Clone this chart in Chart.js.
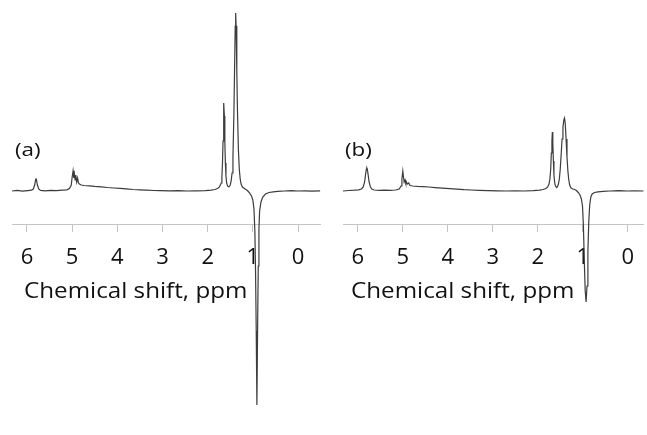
<!DOCTYPE html>
<html>
<head>
<meta charset="utf-8">
<script src="https://cdn.jsdelivr.net/npm/chart.js@4/dist/chart.umd.min.js"></script>
<style>
  html, body { margin: 0; padding: 0; background: #ffffff; }
  #wrap { position: relative; width: 647px; height: 435px; overflow: hidden; }
  canvas { position: absolute; top: 0; }
  #ca { left: 0; }
  #cb { left: 330px; }
</style>
</head>
<body>
<div id="wrap">
  <canvas id="ca" width="330" height="435"></canvas>
  <canvas id="cb" width="317" height="435"></canvas>
</div>
<script>
// ---- data ----
const xTicks = [6, 5, 4, 3, 2, 1, 0];
const axisTitle = 'Chemical shift, ppm';
const panelLabels = ['(a)', '(b)'];

// panel (a): chemical shift (ppm) and signal (arbitrary units)
const ppmA = [6.33, 6.22, 6.10, 5.98, 5.90, 5.86, 5.83, 5.81, 5.80, 5.79, 5.77, 5.74, 5.70, 5.60, 5.48, 5.35, 5.22, 5.12, 5.06, 5.02,
  5.00, 4.98, 4.965, 4.95, 4.935, 4.92, 4.90, 4.88, 4.86, 4.84, 4.80, 4.74, 4.62, 4.50, 4.36, 4.22, 4.08, 3.94, 3.80, 3.65,
  3.50, 3.35, 3.20, 3.05, 2.85, 2.65, 2.45, 2.25, 2.05, 1.92, 1.84, 1.78, 1.74, 1.70, 1.685, 1.672, 1.66, 1.65, 1.64, 1.63,
  1.62, 1.608, 1.595, 1.58, 1.56, 1.53, 1.50, 1.48, 1.46, 1.44, 1.42, 1.405, 1.39, 1.38, 1.37, 1.355, 1.34, 1.32, 1.30, 1.28,
  1.26, 1.23, 1.17, 1.12, 1.07, 1.03, 1.00, 0.975, 0.955, 0.94, 0.925, 0.91, 0.895, 0.88, 0.865, 0.85, 0.82, 0.78, 0.72, 0.64,
  0.55, 0.45, 0.30, 0.15, 0.0, -0.15, -0.30, -0.49];
const intA = [0, 0.6, -0.2, 0.4, 0.8, 2, 6, 11, 12, 11, 6, 2, 0.6, 0.2, 0.6, 0.3, 0.8, 1.2, 2.5, 6,
  14, 20, 13, 17, 11, 16, 9, 13, 8, 7, 6, 5.5, 5.2, 4.6, 4.2, 3.5, 3, 2.6, 2.1, 1.5,
  1.2, 0.8, 0.5, 0.3, 0.1, 0.3, 0, 0.2, 0.4, 0.8, 1.5, 2.5, 4, 8, 14, 28, 50, 75, 88, 75,
  50, 28, 15, 8, 5, 4, 6, 10, 18, 35, 75, 120, 165, 178, 165, 120, 80, 42, 22, 12,
  7, 4, 2, 0.5, -2, -5, -9, -18, -40, -80, -140, -214, -140, -75, -38, -20, -11, -6, -3, -1.5,
  -0.8, -0.3, 0, 0.3, 0, 0.2, -0.1, 0.2];

// panel (b)
const ppmB = [6.33, 6.20, 6.08, 5.98, 5.92, 5.88, 5.85, 5.83, 5.81, 5.80, 5.79, 5.77, 5.75, 5.72, 5.69, 5.64, 5.52, 5.40, 5.28, 5.16,
  5.08, 5.04, 5.02, 5.00, 4.985, 4.97, 4.95, 4.935, 4.92, 4.90, 4.87, 4.84, 4.78, 4.68, 4.55, 4.42, 4.28, 4.12, 3.96, 3.80,
  3.64, 3.48, 3.30, 3.10, 2.90, 2.70, 2.50, 2.30, 2.10, 1.96, 1.88, 1.82, 1.78, 1.75, 1.73, 1.712, 1.698, 1.685, 1.675, 1.665,
  1.652, 1.64, 1.625, 1.61, 1.59, 1.575, 1.56, 1.54, 1.52, 1.50, 1.48, 1.46, 1.44, 1.42, 1.405, 1.39, 1.37, 1.35, 1.33, 1.31,
  1.29, 1.26, 1.22, 1.18, 1.14, 1.10, 1.06, 1.03, 1.005, 0.985, 0.965, 0.945, 0.925, 0.905, 0.885, 0.865, 0.845, 0.82, 0.79, 0.74,
  0.66, 0.55, 0.40, 0.20, 0.0, -0.15, -0.35];
const intB = [0, 0.5, 0.8, 1.2, 2, 4, 9, 16, 22, 23, 22, 16, 9, 4, 2, 1, 0.6, 0.8, 0.6, 1,
  2, 5, 12, 20, 14, 9, 11, 8, 9, 7, 8, 5.5, 5, 4.6, 4.4, 4, 3.4, 2.8, 2.3, 1.8,
  1.3, 1, 0.7, 0.4, 0.2, 0, 0.2, 0, 0.3, 0.8, 1.5, 2.5, 4, 7, 12, 22, 38, 50, 59, 48,
  30, 16, 9, 5.5, 4, 3.8, 4.5, 7, 12, 22, 36, 52, 64, 71, 73, 68, 52, 34, 20, 11,
  6, 3, 2, 1.5, 0.5, -1.5, -4, -8, -15, -35, -70, -100, -111, -95, -60, -30, -14, -6, -3, -1.5,
  -0.8, -0.3, 0, 0.3, 0, 0.2, 0];

// ---- drawing ----
const FONT = '"Open Sans", "Noto Sans", sans-serif';

function stretchedText(ctx, text, x, y, font, sx) {
  ctx.save();
  ctx.font = font;
  ctx.translate(x, y);
  ctx.scale(sx, 1);
  ctx.fillText(text, 0, 0);
  ctx.restore();
}

const panelText = {
  id: 'panelText',
  beforeDatasetsDraw(chart, args, opts) {
    const ctx = chart.ctx;
    ctx.save();
    ctx.fillStyle = '#111111';
    ctx.textAlign = 'left';
    ctx.textBaseline = 'alphabetic';
    stretchedText(ctx, opts.label, opts.labelX, opts.labelY, '19px ' + FONT, 1.18);
    stretchedText(ctx, opts.title, opts.titleX, opts.titleY, '22px ' + FONT, 1.10);
    ctx.restore();
  }
};

function makeChart(id, xs, ys, xMin, xMax, pad, label, labelX, titleX) {
  const pts = xs.map((x, i) => ({x: x, y: ys[i]}));
  return new Chart(document.getElementById(id), {
    type: 'line',
    data: {
      datasets: [{
        data: pts,
        borderColor: '#3c3c3c',
        borderWidth: 1.2,
        pointRadius: 0,
        tension: 0,
        fill: false,
        clip: false
      }]
    },
    options: {
      responsive: false,
      animation: false,
      events: [],
      layout: {padding: pad},
      plugins: {
        legend: {display: false},
        tooltip: {enabled: false},
        panelText: {label: label, labelX: labelX, labelY: 156, title: axisTitle, titleX: titleX, titleY: 298}
      },
      scales: {
        x: {
          type: 'linear',
          reverse: true,
          min: xMin,
          max: xMax,
          position: {y: -34},
          afterBuildTicks: s => { s.ticks = xTicks.map(v => ({value: v})); },
          grid: {display: true, drawOnChartArea: false, drawTicks: true, tickLength: 7, color: '#c4c4c4', lineWidth: 1},
          border: {display: true, color: '#c4c4c4', width: 1},
          ticks: {color: '#111111', font: {family: FONT, size: 22}, padding: 13, maxRotation: 0, autoSkip: false,
                  callback: v => String(v)}
        },
        y: {display: false, min: -244, max: 191}
      }
    },
    plugins: [panelText]
  });
}

makeChart('ca', ppmA, intA, -0.487, 6.332, {left: 12, right: 10, top: 0, bottom: 0}, panelLabels[0], 15, 24);
makeChart('cb', ppmB, intB, -0.352, 6.33, {left: 13, right: 0, top: 0, bottom: 0}, panelLabels[1], 15, 21);
</script>
</body>
</html>
